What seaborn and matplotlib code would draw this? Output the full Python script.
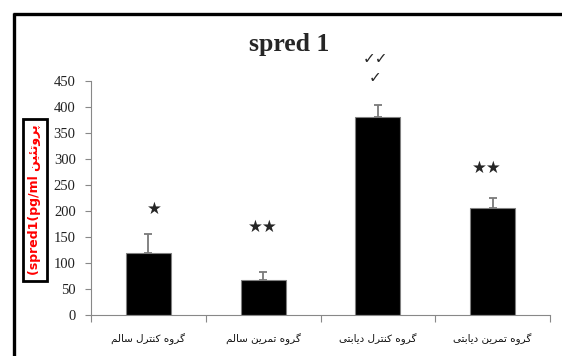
import matplotlib
matplotlib.use("Agg")
import matplotlib.pyplot as plt
from matplotlib.lines import Line2D
import seaborn as sns
import pandas as pd

# ---- data ----
groups = ["گروه کنترل سالم", "گروه تمرین سالم", "گروه کنترل دیابتی", "گروه تمرین دیابتی"]
means = [119, 68, 380, 206]
errors = [36, 14, 24, 19]
yticks = [0, 50, 100, 150, 200, 250, 300, 350, 400, 450]
title = "spred 1"
ylabel_latin = "(spred1(pg/ml"
ylabel_fa = "پروتئین"
marks = ["★", "★★", "✓✓\n✓", "★★"]

# ---- minimal Persian shaping (contextual presentation forms) ----
FORMS = {
    "گ": (0xFB92, 0xFB93, 0xFB94, 0xFB95), "ر": (0xFEAD, 0xFEAE),
    "و": (0xFEED, 0xFEEE), "ه": (0xFEE9, 0xFEEA, 0xFEEB, 0xFEEC),
    "ک": (0xFB8E, 0xFB8F, 0xFB90, 0xFB91), "ن": (0xFEE5, 0xFEE6, 0xFEE7, 0xFEE8),
    "ت": (0xFE95, 0xFE96, 0xFE97, 0xFE98), "ل": (0xFEDD, 0xFEDE, 0xFEDF, 0xFEE0),
    "س": (0xFEB1, 0xFEB2, 0xFEB3, 0xFEB4), "ا": (0xFE8D, 0xFE8E),
    "م": (0xFEE1, 0xFEE2, 0xFEE3, 0xFEE4), "ی": (0xFBFC, 0xFBFD, 0xFBFE, 0xFBFF),
    "د": (0xFEA9, 0xFEAA), "ب": (0xFE8F, 0xFE90, 0xFE91, 0xFE92),
    "پ": (0xFB56, 0xFB57, 0xFB58, 0xFB59), "ئ": (0xFE89, 0xFE8A, 0xFE8B, 0xFE8C),
}


def shape_fa(s):
    out = []
    for i, c in enumerate(s):
        if c not in FORMS:
            out.append(c)
            continue
        f = FORMS[c]
        prev = s[i - 1] if i > 0 else None
        nxt = s[i + 1] if i + 1 < len(s) else None
        pj = prev in FORMS and len(FORMS[prev]) == 4
        nj = len(f) == 4 and nxt in FORMS
        if pj and nj:
            cp = f[3]
        elif pj:
            cp = f[1]
        elif nj:
            cp = f[2]
        else:
            cp = f[0]
        out.append(chr(cp))
    return "".join(out)[::-1]


# ---- figure ----
sns.set_style("white")
plt.rcParams["font.family"] = ["Liberation Serif", "DejaVu Sans"]

fig = plt.figure(figsize=(5.62, 3.56), dpi=100)
ax = fig.add_axes([91 / 562, 1 - 315 / 356, (550 - 91) / 562, (315 - 81) / 356])

df = pd.DataFrame({"group": groups, "value": means})
sns.barplot(data=df, x="group", y="value", color="black", errorbar=None,
            width=0.39, edgecolor="#808080", linewidth=0.8, ax=ax, saturation=1)
xs = list(range(len(groups)))
ax.errorbar(xs, means, yerr=[[0] * len(errors), errors], fmt="none",
            ecolor="#7a7a7a", elinewidth=1.3, capsize=3, capthick=1.3, zorder=1)

ax.set_xlim(-0.5, 3.5)
ax.set_ylim(0, 450)
ax.set_yticks(yticks)
ax.set_yticklabels([str(v) for v in yticks], fontsize=10.5, family="Liberation Serif",
                   color="#222222")
ax.set_xticks(xs)
ax.set_xticklabels([shape_fa(g) for g in groups], fontsize=7.5, family="DejaVu Sans",
                   color="#111111")
ax.tick_params(axis="x", length=0, pad=13)
ax.tick_params(axis="y", length=4, width=0.8, color="#888888", pad=7, left=True, direction="out")
# category boundary ticks
ax.set_xticks([-0.5, 0.5, 1.5, 2.5, 3.5], minor=True)
ax.tick_params(axis="x", which="minor", length=5, width=0.8, color="#888888", bottom=True, direction="out")
ax.set_xlabel("")
ax.set_ylabel("")
for side in ["top", "right"]:
    ax.spines[side].set_visible(False)
for side in ["left", "bottom"]:
    ax.spines[side].set_color("#888888")
    ax.spines[side].set_linewidth(0.8)

# significance marks
mark_pos = [(0.05, 204), (0.0, 169), (-0.02, 475), (-0.05, 283)]
mark_size = [12, 12, 11, 12]
for (dx, y), m, x, fs in zip(mark_pos, marks, xs, mark_size):
    ax.text(x + dx, y, m, ha="center", va="center", fontsize=fs,
            family="DejaVu Sans", clip_on=False, linespacing=1.3)

fig.text(289 / 562, 1 - 45 / 356, title, ha="center", va="center",
         fontsize=18.5, fontweight="bold", family="Liberation Serif")

fig.text(35 / 562, 1 - 200 / 356, ylabel_latin + " " + shape_fa(ylabel_fa),
         rotation=90, ha="center", va="center", color="red", fontsize=9,
         fontweight="bold", family="DejaVu Sans",
         bbox=dict(boxstyle="square,pad=0.45", facecolor="white", edgecolor="black", linewidth=2))

# outer frame
fig.add_artist(Line2D([14 / 562, 14 / 562], [0, 1 - 13 / 356], color="black", linewidth=2.4,
                      transform=fig.transFigure, solid_capstyle="butt"))
fig.add_artist(Line2D([13 / 562, 1], [1 - 14 / 356, 1 - 14 / 356], color="black", linewidth=2.4,
                      transform=fig.transFigure, solid_capstyle="butt"))

fig.savefig("out.png", dpi=100)
